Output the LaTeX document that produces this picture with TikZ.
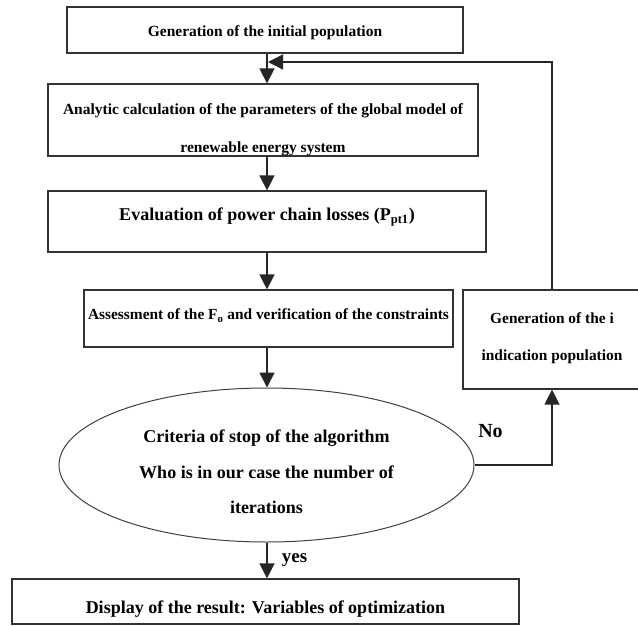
\documentclass[tikz,border=0pt]{standalone}
\usepackage{fontspec}
\setmainfont{Liberation Serif}
\usetikzlibrary{arrows.meta,shapes.geometric}

\newcommand{\boxtext}[2]{\raisebox{#1}[0pt][0pt]{\begin{tabular}{@{}c@{}}#2\end{tabular}}}

\begin{document}
\begin{tikzpicture}[x=1pt,y=-1pt,
    box/.style={draw=black!80, line width=1.2pt, rectangle, inner sep=0pt, font=\bfseries},
    oval/.style={draw=black!75, line width=1pt, ellipse, inner sep=0pt, font=\bfseries},
    link/.style={draw=black!85, line width=1.4pt, -{Triangle[width=15pt,length=15pt]}}]
            \useasboundingbox (0,0) rectangle (638,625);
            \coordinate (axis) at (267,0);

            \node[box, minimum width=396pt, minimum height=46pt] (init) at (265,30)
                {\fontsize{15.5}{18.6}\selectfont\boxtext{-6.8pt}{Generation of the initial population}};
            \node[box, minimum width=430pt, minimum height=72pt] (analytic) at (263,120)
                {\fontsize{15.5}{18.6}\selectfont\boxtext{-13.8pt}{Analytic calculation of the parameters of the global model of\\[19.4pt] renewable energy system}};
            \node[box, minimum width=438pt, minimum height=61pt] (eval) at (267,221.5)
                {\fontsize{18}{21.6}\selectfont\boxtext{0.9pt}{Evaluation of power chain losses (P\textsubscript{pt1})}};
            \node[box, minimum width=369pt, minimum height=57pt] (assess) at (268.5,318.5)
                {\fontsize{15.4}{18.5}\selectfont\boxtext{-1.3pt}{Assessment of the F\textsubscript{o} and verification of the constraints}};
            \node[box, minimum width=178pt, minimum height=99pt] (gen) at (552,339.5)
                {\fontsize{15.4}{18.5}\selectfont\boxtext{-2.8pt}{Generation of the i\\[18.5pt] indication population}};
            \node[oval, minimum width=415pt, minimum height=154pt] (crit) at (266.5,465)
                {\fontsize{18}{21.6}\selectfont\boxtext{-13.1pt}{Criteria of stop of the algorithm\\[13.9pt] Who is in our case the number of\\[13.9pt] iterations}};
            \node[box, minimum width=507pt, minimum height=45pt] (disp) at (265.5,601.5)
                {\fontsize{18}{21.6}\selectfont\boxtext{-12.1pt}{Display of the result: Variables of optimization}};

            \node[font=\fontsize{20}{24}\selectfont\bfseries] (no) at (490.5,431) {No};
            \node[font=\fontsize{19}{23}\selectfont\bfseries] (yes) at (294.5,560) {yes};

            \draw[link] (init.south -| axis) -- (analytic.north -| axis);
            \draw[link] (analytic.south -| axis) -- (eval.north -| axis);
            \draw[link] (eval.south -| axis) -- (assess.north -| axis);
            \draw[link] (assess.south -| axis) -- (crit.north -| axis);
            \draw[link] (crit.south -| axis) -- (disp.north -| axis);

            % loop back when the stop criterion is not met
            \coordinate (back) at (268,62);
            \draw[link] (crit.east) -| (gen.south);
            \draw[link] (gen.north) |- (back);
        \end{tikzpicture}
\end{document}
